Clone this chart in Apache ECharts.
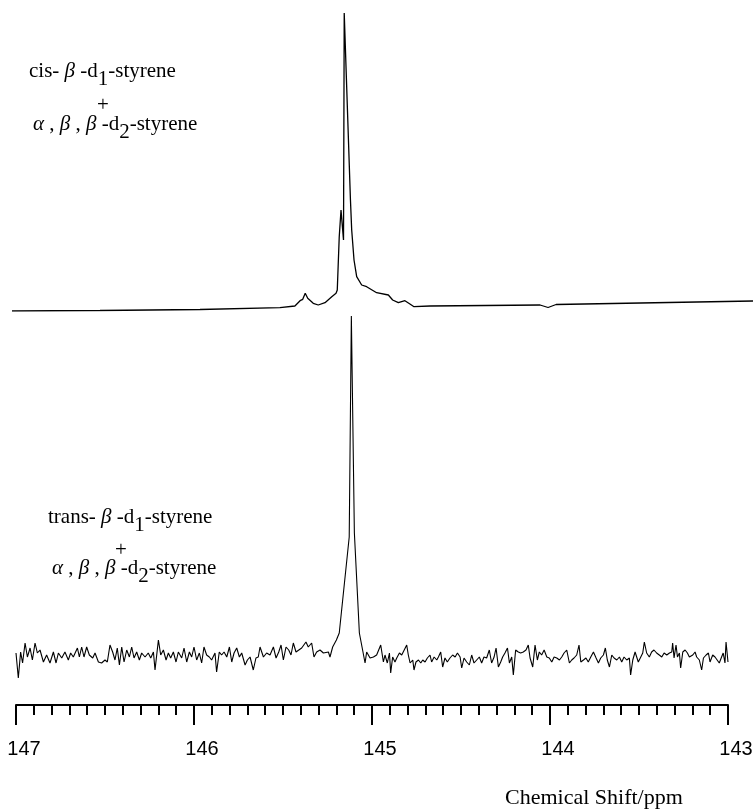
<!DOCTYPE html>
<html>
<head>
<meta charset="utf-8">
<script src="https://cdn.jsdelivr.net/npm/echarts@6/dist/echarts.min.js"></script>
<style>
  html, body { margin: 0; padding: 0; background: #fff; }
  #chart { width: 753px; height: 810px; }
</style>
</head>
<body>
<div id="chart"></div>
<script>
// Chemical-shift scale (ppm), drawn high to low
const shiftTicks = [143, 144, 145, 146, 147];

// Upper spectrum: cis-β-d1-styrene + α,β,β-d2-styrene
const cisShift = [
  147.022, 146.528, 145.966, 145.517, 145.433, 145.404, 145.389, 145.375, 145.361, 145.330,
  145.302, 145.264, 145.226, 145.202, 145.195, 145.184, 145.174, 145.160, 145.156, 145.121,
  145.114, 145.101, 145.086, 145.058, 145.030, 144.974, 144.908, 144.884, 144.852, 144.815,
  144.787, 144.764, 144.674, 144.056, 144.011, 143.966, 142.860
];
const cisIntensity = [
  0, 0.5, 1.5, 3.3, 5, 10.3, 11.7, 17.7, 12.7, 7.7,
  6, 8.3, 14.3, 17.7, 21, 74.3, 101, 71, 298, 111,
  81, 51, 34.3, 26, 24.3, 18.3, 16, 11, 8.3, 10.3,
  7, 4.3, 5, 6, 3.5, 6.5, 10
];

// Lower spectrum: trans-β-d1-styrene + α,β,β-d2-styrene
const transShift = [
  147.000, 146.987, 146.974, 146.963, 146.949, 146.936, 146.921, 146.908, 146.893, 146.880,
  146.865, 146.846, 146.828, 146.809, 146.790, 146.775, 146.762, 146.743, 146.725, 146.706,
  146.693, 146.678, 146.655, 146.644, 146.631, 146.618, 146.603, 146.588, 146.569, 146.556,
  146.537, 146.519, 146.500, 146.487, 146.472, 146.457, 146.444, 146.431, 146.419, 146.406,
  146.393, 146.378, 146.363, 146.350, 146.337, 146.322, 146.307, 146.294, 146.275, 146.257,
  146.243, 146.228, 146.219, 146.200, 146.187, 146.172, 146.157, 146.144, 146.131, 146.116,
  146.101, 146.088, 146.069, 146.056, 146.041, 146.026, 146.013, 146.000, 145.985, 145.970,
  145.957, 145.944, 145.929, 145.914, 145.901, 145.882, 145.873, 145.858, 145.845, 145.831,
  145.816, 145.801, 145.788, 145.775, 145.760, 145.745, 145.732, 145.713, 145.700, 145.685,
  145.667, 145.652, 145.639, 145.629, 145.610, 145.592, 145.573, 145.554, 145.539, 145.524,
  145.511, 145.498, 145.483, 145.468, 145.455, 145.442, 145.427, 145.395, 145.371, 145.358,
  145.339, 145.326, 145.311, 145.292, 145.273, 145.245, 145.236, 145.221,
  145.200, 145.184, 145.128, 145.116, 145.099, 145.071, 145.056, 145.039, 145.030,
  145.011, 144.992, 144.974, 144.951, 144.936, 144.927, 144.914, 144.902, 144.895, 144.884,
  144.871, 144.861, 144.846, 144.833, 144.824, 144.805, 144.796, 144.786, 144.771, 144.764,
  144.753, 144.739, 144.726, 144.715, 144.702, 144.689, 144.674, 144.665, 144.651, 144.636,
  144.627, 144.614, 144.603, 144.590, 144.577, 144.562, 144.547, 144.533, 144.520, 144.505,
  144.496, 144.483, 144.468, 144.453, 144.440, 144.427, 144.412, 144.397, 144.384, 144.371,
  144.356, 144.341, 144.328, 144.314, 144.303, 144.290, 144.277, 144.266, 144.253, 144.239,
  144.228, 144.215, 144.206, 144.193, 144.178, 144.165, 144.150, 144.135, 144.122, 144.112,
  144.097, 144.084, 144.071, 144.060, 144.047, 144.033, 144.018, 144.004, 143.990, 143.977,
  143.962, 143.947, 143.934, 143.921, 143.906, 143.891, 143.878, 143.865, 143.850, 143.837,
  143.827, 143.812, 143.798, 143.785, 143.771, 143.756, 143.741, 143.728, 143.715, 143.700,
  143.689, 143.678, 143.666, 143.653, 143.640, 143.625, 143.610, 143.597, 143.584, 143.569,
  143.554, 143.547, 143.535, 143.522, 143.513, 143.504, 143.490, 143.479, 143.470, 143.457,
  143.442, 143.429, 143.416, 143.401, 143.386, 143.372, 143.359, 143.344, 143.329, 143.316,
  143.311, 143.303, 143.292, 143.284, 143.273, 143.266, 143.254, 143.241, 143.228, 143.217,
  143.210, 143.198, 143.185, 143.176, 143.161, 143.148, 143.138, 143.123, 143.110, 143.101,
  143.086, 143.073, 143.064, 143.049, 143.036, 143.027, 143.017, 143.011, 143.000
];
const transIntensity = [
  4, -21, 5, -6, 14, 0, 9, -3, 14, 4,
  7, -5, 2, -6, 5, -6, 4, -1, 5, -3,
  4, 0, 9, 0, 10, 0, 10, 2, -1, 4,
  -5, -6, -3, -5, 12, 5, -3, 9, -8, 10,
  -5, 7, 0, 10, -1, 5, -3, 4, 0, 4,
  -1, 5, -13, 17, 2, 7, -3, 4, -1, 5,
  -5, 5, -1, 9, -5, 5, 0, 10, -3, 4,
  -6, 10, 2, 0, -3, 4, -15, 5, 2, 5,
  0, 10, -5, 4, 9, 0, 4, -8, -3, 0,
  -13, -1, 0, 10, 0, 4, 2, 10, -1, 5,
  12, -3, 10, 7, 2, 14, 5, 9, 15, 10,
  14, 0, 5, 7, 4, 5, 0, 10,
  17, 24, 120, 341, 124, 24, 10, -6, 5,
  -1, 0, 2, 12, -5, 2, -6, 4, -16, 0,
  -5, -1, 4, 2, 4, 12, 2, -6, -3, -13,
  -5, -3, -6, -3, -5, -1, 2, -5, 0, -3,
  0, 5, -10, -1, -5, -1, 2, 0, 4, 0,
  -11, -1, -5, -8, 2, -6, -3, 0, -6, 0,
  -1, 7, -6, 0, 9, -10, -5, 0, 4, 9,
  -6, 0, -18, 7, 5, 4, 5, 7, 12, -1,
  -10, 12, -3, 5, 2, 7, 0, -1, -5, 0,
  -1, -3, 0, 4, 7, -6, -3, -1, 2, 12,
  -5, -3, -1, -5, 0, 5, -1, -6, -1, 2,
  9, -3, -10, 2, -1, -3, 0, -5, 0, -3,
  -1, -18, -3, 5, 7, -5, 0, 4, 15, 4,
  0, 5, 7, 4, 2, 0, 4, 2, 4, 5,
  14, -1, 12, 0, 4, -11, 5, 7, 4, 0,
  -1, 2, 5, 0, -3, -13, -1, 2, 4, -5,
  2, 0, 2, -6, 0, 4, -6, 15, -5
];

function pairs(xs, ys) {
  return xs.map((x, i) => [x, ys[i]]);
}

const serif = '"Liberation Serif", "Times New Roman", serif';
const ink = '#000';

// rich-text pieces: plain, Greek (italic), subscript (dropped in the line box)
const richParts = {
  n: { fontFamily: serif, fontSize: 21, fill: ink, verticalAlign: 'top' },
  g: { fontFamily: serif, fontSize: 21, fontStyle: 'italic', fill: ink, verticalAlign: 'top' },
  s: { fontFamily: serif, fontSize: 21, fill: ink, verticalAlign: 'bottom' }
};

function formulaLine(text, x, y) {
  return {
    type: 'text', left: x, top: y, silent: true,
    style: { text: text, x: 0, y: 0, fontFamily: serif, fontSize: 21, lineHeight: 29, fill: ink, rich: richParts }
  };
}
function plusSign(cx, cy) {
  return {
    type: 'text', silent: true,
    style: { text: '+', x: cx, y: cy, align: 'center', verticalAlign: 'middle', fontFamily: serif, fontSize: 21, fill: ink }
  };
}

const cisLabel = '{n|cis- }{g|β}{n| -d}{s|1}{n|-styrene}';
const transLabel = '{n|trans- }{g|β}{n| -d}{s|1}{n|-styrene}';
const d2Label = '{g|α}{n| , }{g|β}{n| , }{g|β}{n| -d}{s|2}{n|-styrene}';

const chart = echarts.init(document.getElementById('chart'), null, { renderer: 'canvas' });

chart.setOption({
  animation: false,
  backgroundColor: '#fff',
  grid: [
    { left: 12, top: 13, width: 741, height: 298, outerBoundsMode: 'none' },
    { left: 16, top: 316, width: 712, height: 389, outerBoundsMode: 'none' }
  ],
  xAxis: [
    { gridIndex: 0, type: 'value', inverse: true, min: 142.86, max: 147.022, show: false },
    {
      gridIndex: 1, type: 'value', inverse: true, position: 'bottom',
      min: shiftTicks[0], max: shiftTicks[shiftTicks.length - 1], interval: 1,
      axisLine: { show: true, onZero: false, lineStyle: { color: ink, width: 2 } },
      axisTick: { show: true, length: 20, lineStyle: { color: ink, width: 2 } },
      minorTick: { show: true, splitNumber: 10, length: 10, lineStyle: { color: ink, width: 2 } },
      splitLine: { show: false },
      minorSplitLine: { show: false },
      axisLabel: {
        color: ink, fontFamily: '"Liberation Sans", Arial, sans-serif',
        fontSize: 20, margin: 34, padding: [0, 0, 0, 16],
        formatter: v => (shiftTicks.indexOf(v) >= 0 ? String(v) : '')
      }
    }
  ],
  yAxis: [
    { gridIndex: 0, type: 'value', min: 0, max: 298, show: false },
    { gridIndex: 1, type: 'value', min: -48, max: 341, show: false }
  ],
  series: [
    {
      name: 'cis', type: 'line', xAxisIndex: 0, yAxisIndex: 0,
      data: pairs(cisShift, cisIntensity),
      symbol: 'none', silent: true,
      lineStyle: { color: ink, width: 1.3 }
    },
    {
      name: 'trans', type: 'line', xAxisIndex: 1, yAxisIndex: 1,
      data: pairs(transShift, transIntensity),
      symbol: 'none', silent: true,
      lineStyle: { color: ink, width: 1.1 }
    }
  ],
  graphic: [
    formulaLine(cisLabel, 29, 61),
    plusSign(103, 105),
    formulaLine(d2Label, 33, 114),
    formulaLine(transLabel, 48, 507),
    plusSign(121, 550),
    formulaLine(d2Label, 52, 558),
    {
      type: 'text', silent: true,
      style: { text: 'Chemical Shift/ppm', x: 505, y: 787, verticalAlign: 'top', fontFamily: serif, fontSize: 22, fill: ink }
    }
  ]
});
</script>
</body>
</html>
